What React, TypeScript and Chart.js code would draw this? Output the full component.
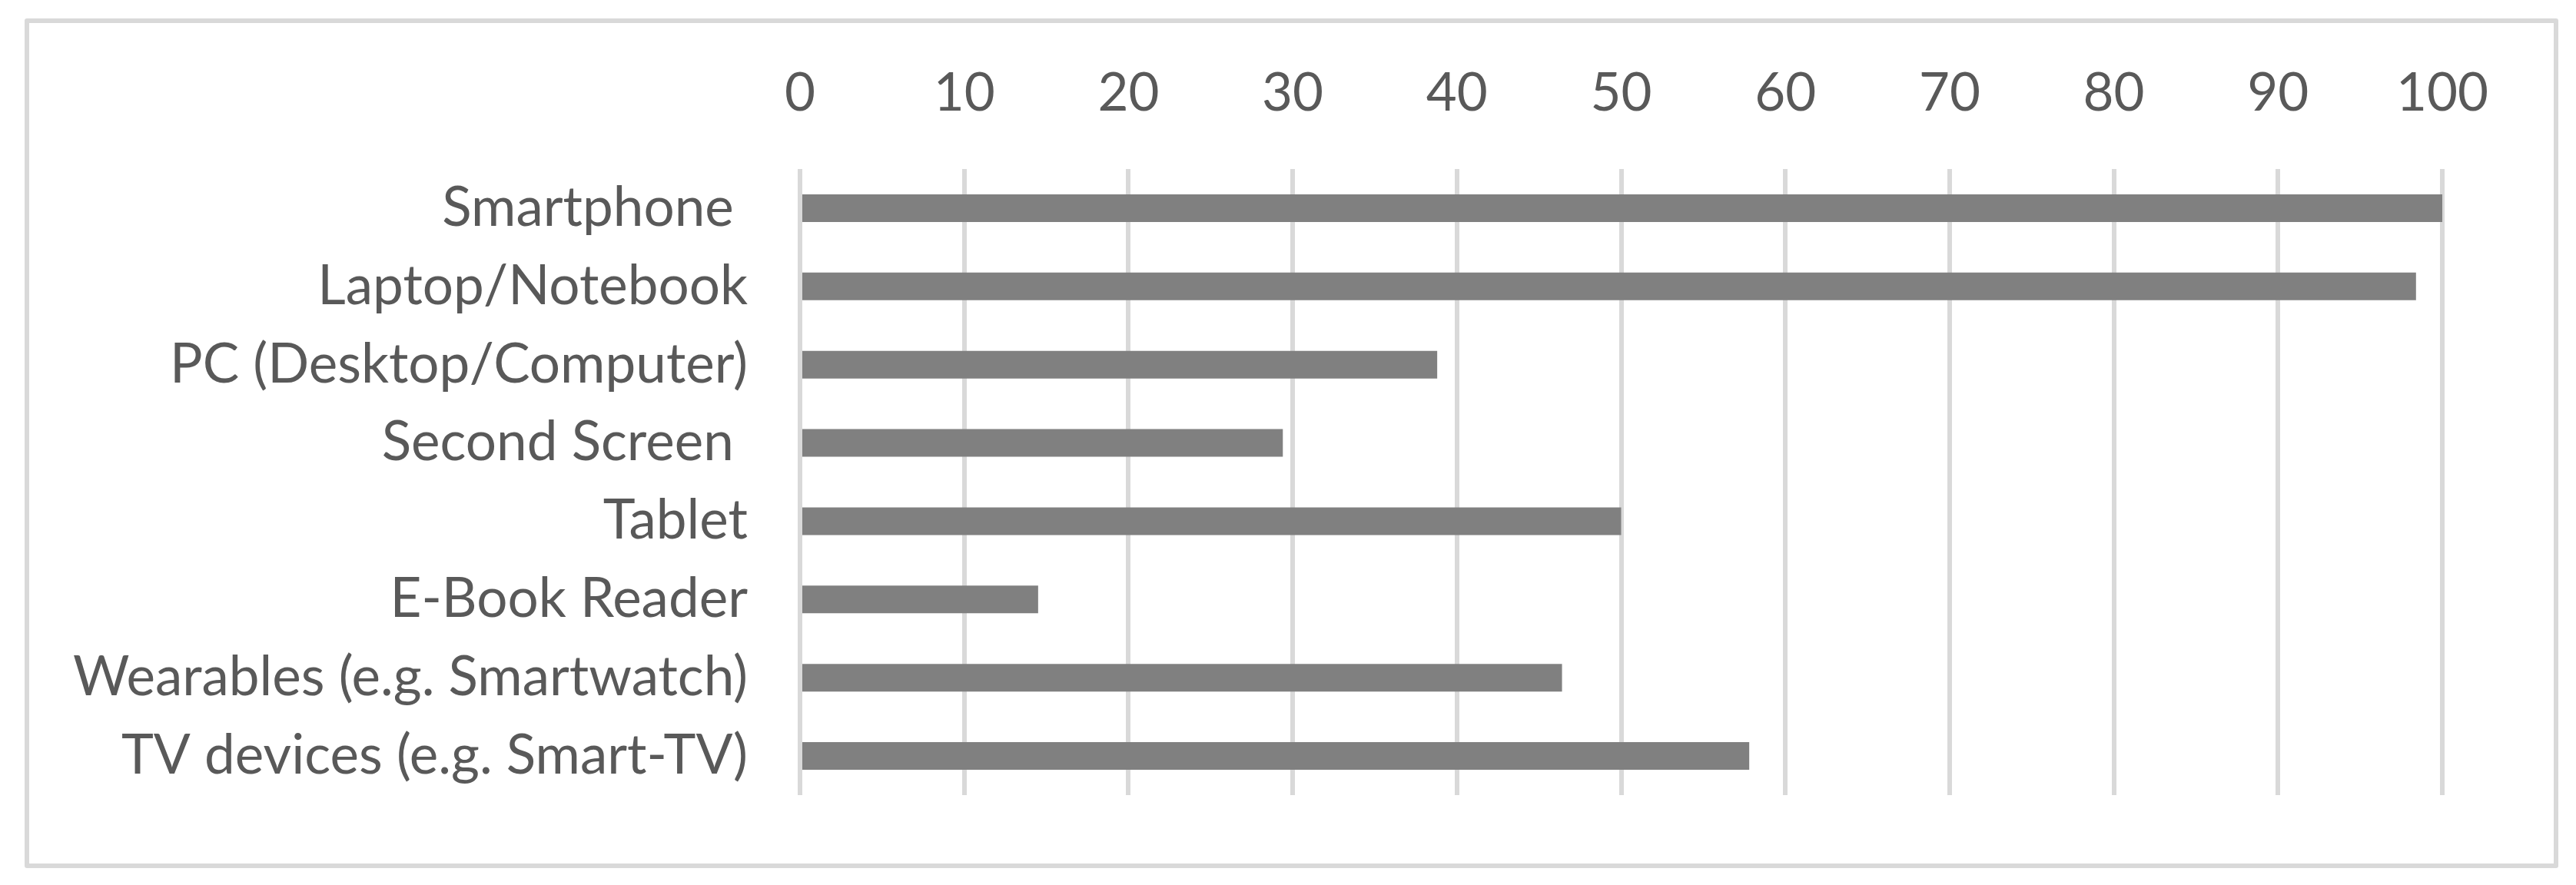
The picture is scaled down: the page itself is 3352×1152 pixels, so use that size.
import React, { useEffect, useRef } from "react";
import { Chart, registerables } from "chart.js";

Chart.register(...registerables);

const categories = [
  "Smartphone ",
  "Laptop/Notebook",
  "PC (Desktop/Computer)",
  "Second Screen ",
  "Tablet",
  "E-Book Reader",
  "Wearables (e.g. Smartwatch)",
  "TV devices (e.g. Smart-TV)",
];
const values = [100, 98.4, 38.8, 29.4, 50, 14.5, 46.4, 57.8];
const axisMin = 0;
const axisMax = 100;
const axisStep = 10;

const FONT = "Lato";
const TEXT = "#595959";
const GRID = "#d9d9d9";
const BAR = "#808080";

const frame = {
  id: "frame",
  beforeDraw(chart: any) {
    const ctx = chart.ctx;
    ctx.save();
    ctx.fillStyle = "#ffffff";
    ctx.fillRect(0, 0, chart.width, chart.height);
    ctx.strokeStyle = GRID;
    ctx.lineWidth = 6;
    ctx.lineJoin = "round";
    ctx.strokeRect(35, 27, 3291, 1100);
    ctx.restore();
  },
};

export default function App() {
  const ref = useRef<HTMLCanvasElement | null>(null);
  useEffect(() => {
    if (!ref.current) return;
    const chart = new Chart(ref.current, {
      type: "bar",
      data: {
        labels: categories,
        datasets: [
          {
            data: values,
            backgroundColor: BAR,
            borderWidth: 0,
            barPercentage: 0.353,
            categoryPercentage: 1,
          },
        ],
      },
      options: {
        indexAxis: "y",
        animation: false,
        responsive: false,
        devicePixelRatio: 1,
        layout: { padding: { left: 0, right: 174, top: 0, bottom: 117 } },
        plugins: { legend: { display: false }, tooltip: { enabled: false }, title: { display: false } },
        scales: {
          x: {
            position: "top",
            min: axisMin,
            max: axisMax,
            ticks: {
              stepSize: axisStep,
              color: TEXT,
              font: { family: FONT, size: 69 },
              padding: 57,
            },
            grid: { color: GRID, lineWidth: 6, drawTicks: false },
            border: { display: false },
            afterFit: (s: any) => {
              s.height = 220;
            },
          },
          y: {
            ticks: {
              color: TEXT,
              font: { family: FONT, size: 71 },
              padding: 68,
            },
            grid: { display: false, drawTicks: false },
            border: { display: false },
            afterFit: (s: any) => {
              s.width = 1041;
            },
          },
        },
      },
      plugins: [frame],
    });
    return () => chart.destroy();
  }, []);
  return (
    <div style={{ position: "absolute", left: 0, top: 0, width: 3352, height: 1152 }}>
      <canvas ref={ref} width={3352} height={1152} style={{ display: "block" }} />
    </div>
  );
}
